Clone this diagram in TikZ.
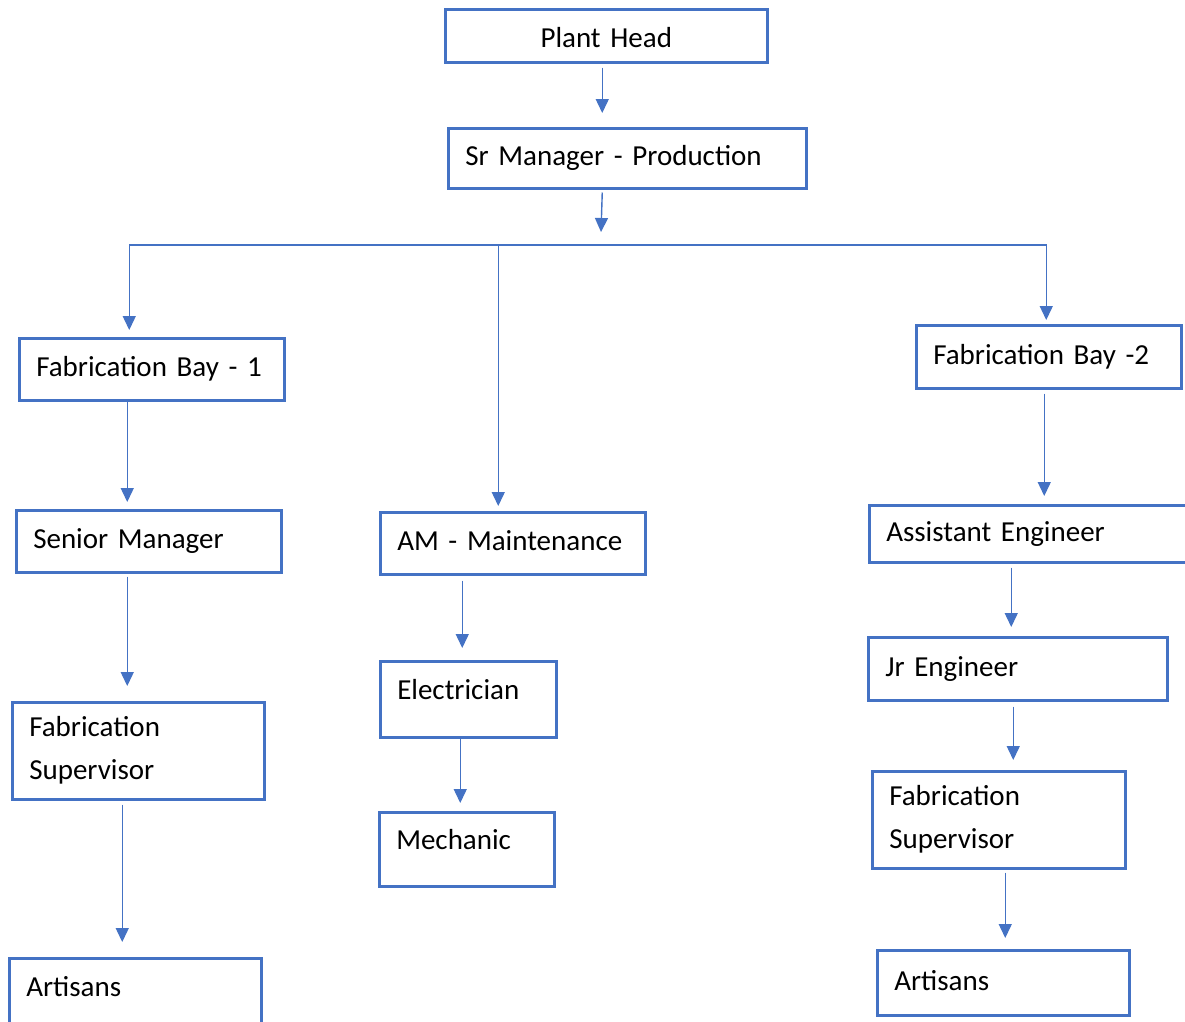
\documentclass[tikz,border=0pt]{standalone}
\usepackage{fontspec}
\setmainfont{Carlito}
\usepackage{xcolor}
\usepackage{tikz}
\usetikzlibrary{arrows.meta}
\definecolor{boxblue}{HTML}{4472C4}

\begin{document}
\begin{tikzpicture}[x=1pt,y=-1pt,
   box/.style={draw=boxblue,line width=2.5pt,anchor=north west,inner xsep=17pt,inner ysep=0pt,
      align=left,font=\fontsize{29}{43}\selectfont},
   oneline/.style={text height=21pt,text depth=6pt},
   link/.style={draw=boxblue,line width=1.4pt,-{Triangle[width=13pt,length=14pt]}}]
   \fill[white] (0,0) rectangle (1185,1021);
   \useasboundingbox (0,0) rectangle (1185,1021);
   % top of the chart
   \node[box,oneline,align=center,text width=288pt,minimum height=53pt,text height=30pt] (ph) at (444,8) {Plant Head};
   \node[box,oneline,text width=324pt,minimum height=60pt] (srm) at (447,127) {Sr Manager - Production};
   \coordinate (hub) at (601,245);
   % three branches
   \node[box,oneline,text width=231pt,minimum height=62pt] (fb1) at (18,337) {Fabrication Bay - 1};
   \node[box,oneline,text width=231pt,minimum height=63pt] (fb2) at (915,324) {Fabrication Bay -2};
   \node[box,oneline,text width=231pt,minimum height=62pt] (sm) at (15,509) {Senior Manager};
   \node[box,oneline,text width=231pt,minimum height=62pt] (am) at (379,511) {AM - Maintenance};
   \node[box,oneline,text width=306pt,minimum height=57pt] (ae) at (868,504) {Assistant Engineer};
   \node[box,text width=218pt,minimum height=97pt] (fs1) at (11,701) {Fabrication\\Supervisor};
   \node[box,oneline,text width=218pt,minimum height=103pt,text depth=48pt] (art1) at (8,957) {Artisans};
   \node[box,oneline,text width=142pt,minimum height=76pt,text depth=21pt] (el) at (379,660) {Electrician};
   \node[box,oneline,text width=141pt,minimum height=74pt,text depth=21pt] (mech) at (378,811) {Mechanic};
   \node[box,oneline,text width=265pt,minimum height=63pt] (jr) at (867,636) {Jr Engineer};
   \node[box,text width=219pt,minimum height=97pt] (fs2) at (871,770) {Fabrication\\Supervisor};
   \node[box,oneline,text width=218pt,minimum height=65pt] (art2) at (876,949) {Artisans};
   % connectors
   \draw[link] ([xshift=-4pt,yshift=-4pt]ph.south) -- ([xshift=-25pt,yshift=14pt]srm.north);
   \draw[link] ([xshift=-25pt,yshift=-3pt]srm.south) -- ([yshift=13pt]hub);
   \draw[link] (hub) -| ([xshift=-22.5pt,yshift=7pt]fb1.north);
   \draw[link] (hub) -| ([xshift=-14.5pt,yshift=5pt]am.north);
   \draw[link] (hub) -| ([xshift=-2.5pt,yshift=4pt]fb2.north);
   \draw[link] ([xshift=-24.5pt,yshift=1pt]fb1.south) -- ([xshift=-21.5pt,yshift=7pt]sm.north);
   \draw[link] ([xshift=-21.5pt,yshift=-3pt]sm.south) -- ([xshift=-11pt,yshift=15pt]fs1.north);
   \draw[link] ([xshift=-16pt,yshift=-4pt]fs1.south) -- ([xshift=-13pt,yshift=15pt]art1.north);
   \draw[link] ([xshift=-50.5pt,yshift=-5pt]am.south) -- ([xshift=-6pt,yshift=12pt]el.north);
   \draw[link] ([xshift=-8pt,yshift=1pt]el.south) -- ([xshift=-6.5pt,yshift=8pt]mech.north);
   \draw[link] ([xshift=-4.5pt,yshift=-4pt]fb2.south) -- ([xshift=5pt,yshift=8pt]ae.north);
   \draw[link] ([xshift=-28pt,yshift=-4pt]ae.south) -- ([xshift=-6.5pt,yshift=9pt]jr.north);
   \draw[link] ([xshift=-4.5pt,yshift=-5pt]jr.south) -- ([xshift=14.5pt,yshift=10pt]fs2.north);
   \draw[link] ([xshift=6.5pt,yshift=-3pt]fs2.south) -- ([xshift=2pt,yshift=11pt]art2.north);
\end{tikzpicture}
\end{document}
